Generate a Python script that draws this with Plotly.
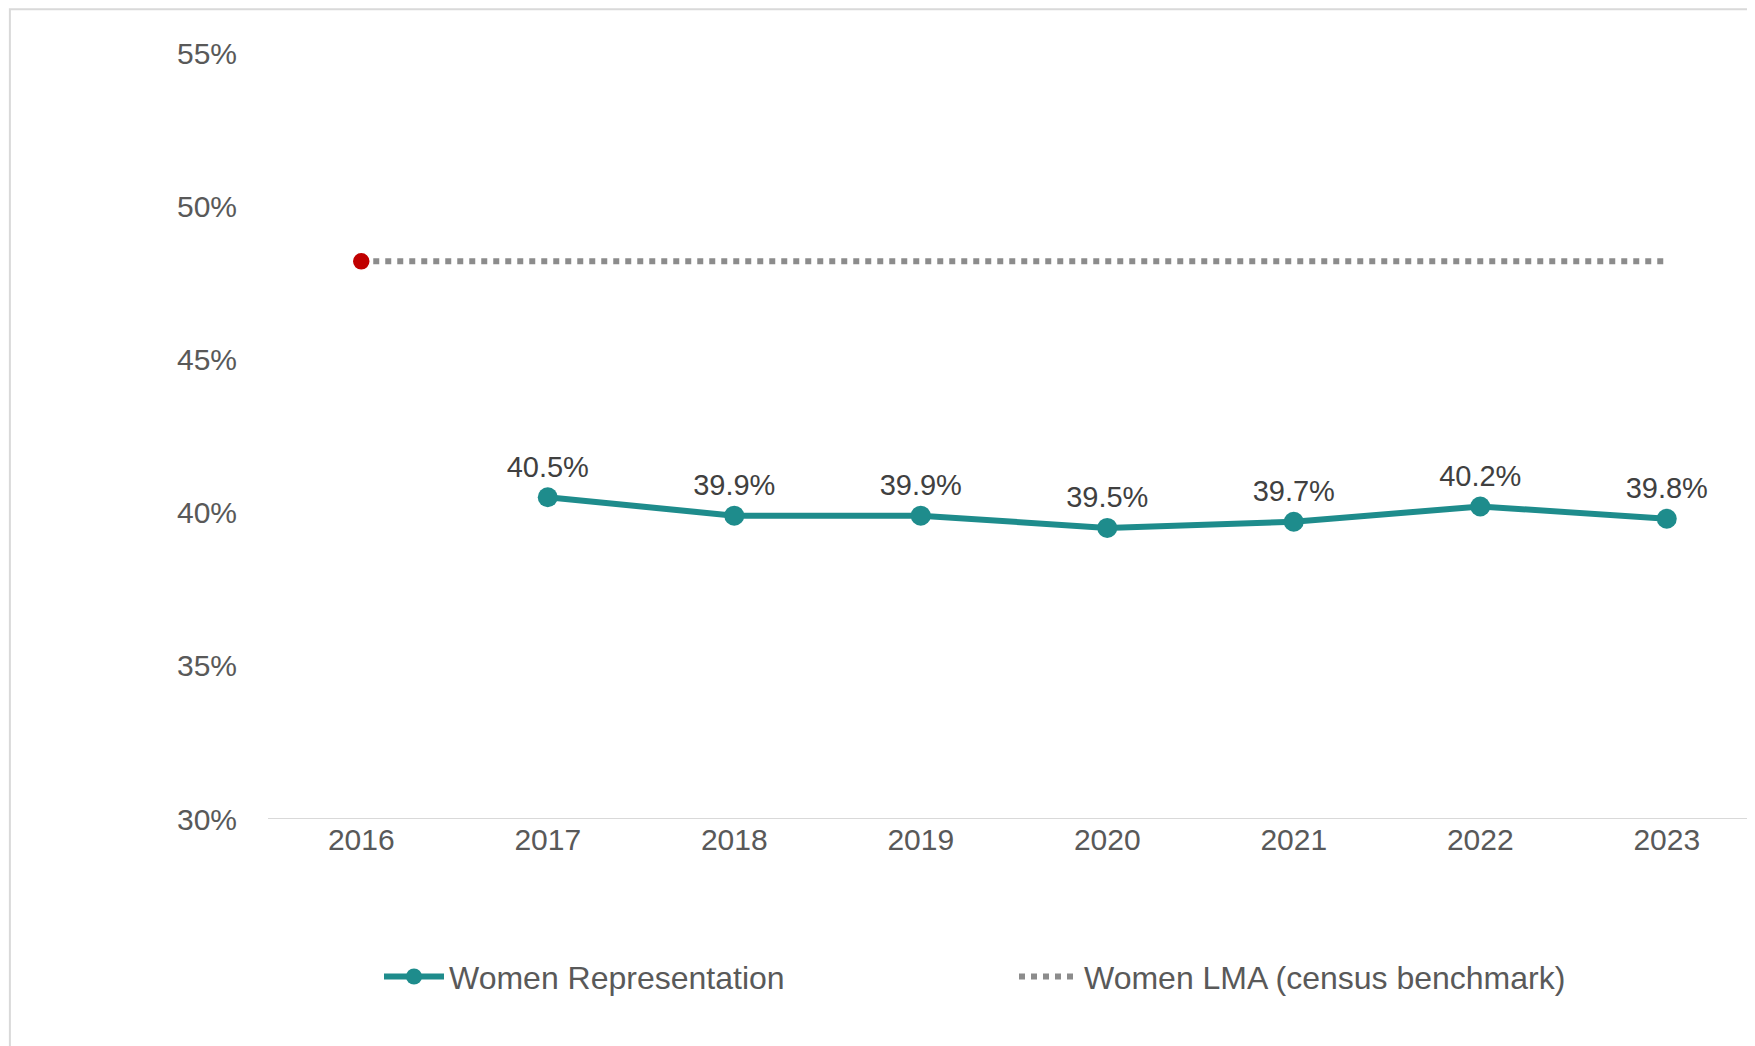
import plotly.graph_objects as go

years = ["2016","2017","2018","2019","2020","2021","2022","2023"]
rep_years = ["2017","2018","2019","2020","2021","2022","2023"]
rep_vals = [40.5,39.9,39.9,39.5,39.7,40.2,39.8]
lma_vals = [48.2]*8
teal = "#1e8c8c"
font = "Liberation Sans"

fig = go.Figure()
fig.add_trace(go.Scatter(x=years, y=lma_vals, mode="lines",
    name="Women LMA (census benchmark)", line=dict(color="#8c8c8c", width=6, dash="dot")))
fig.add_trace(go.Scatter(x=rep_years, y=rep_vals, mode="lines+markers+text",
    name="Women Representation", line=dict(color=teal, width=6),
    marker=dict(size=20, color=teal),
    text=[f"{v:.1f}%" for v in rep_vals], textposition="top center",
    textfont=dict(size=29, color="#404040", family=font)))
fig.add_trace(go.Scatter(x=[years[0]], y=[lma_vals[0]], mode="markers", showlegend=False,
    marker=dict(size=18, color="#c00000", line=dict(color="white", width=1.5))))
fig.add_annotation(x=years[0], y=lma_vals[0], ax=15, ay=-38, text="48.2%", showarrow=True,
    arrowhead=0, arrowwidth=1.5, arrowcolor="#a6a6a6", yanchor="bottom", xanchor="center",
    font=dict(size=29, color="#404040", family=font))
fig.update_layout(
    width=1755, height=1046, paper_bgcolor="white", plot_bgcolor="white",
    margin=dict(l=260, r=3, t=45, b=235),
    font=dict(family=font, color="#595959", size=29),
    xaxis=dict(type="category", categoryorder="array", categoryarray=years,
               range=[-0.5,7.5], showgrid=False, showline=False,
               ticks="", tickfont=dict(size=30, color="#595959")),
    yaxis=dict(range=[30,55], dtick=5, ticksuffix="%", showgrid=False, zeroline=False,
               showline=False, tickfont=dict(size=30, color="#595959"), ticklabelstandoff=30),
    legend=dict(orientation="h", x=0.5, xanchor="center", y=-0.17, yanchor="top",
                traceorder="reversed",
                font=dict(size=32, color="#595959"), itemwidth=60, entrywidth=560),
    shapes=[dict(type="line", xref="paper", yref="y", x0=0, x1=1, y0=30, y1=30,
                 line=dict(color="#d9d9d9", width=2)),
            dict(type="rect", xref="paper", yref="paper", x0=-0.173, x1=1.0, y0=-0.305, y1=1.057,
                 line=dict(color="#d9d9d9", width=2))],
)
fig.write_html("out.html")
